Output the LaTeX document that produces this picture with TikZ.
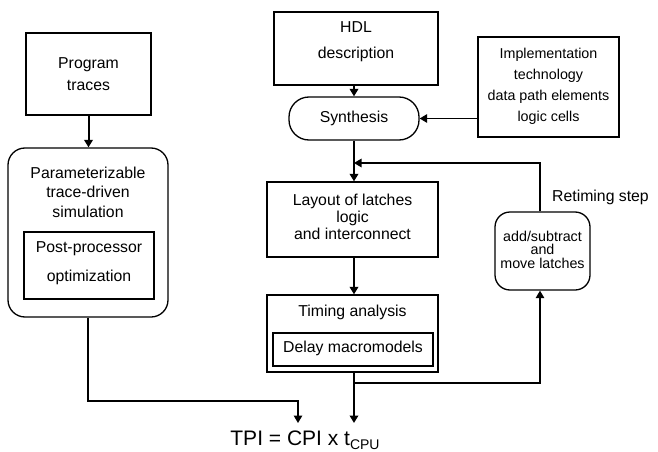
\documentclass[tikz,border=0pt]{standalone}
\usepackage{fontspec}
\setmainfont{Liberation Sans}
\usetikzlibrary{arrows.meta}
\begin{document}
\begin{tikzpicture}[x=1pt,y=-1pt,
  box/.style={draw,line width=1.3pt,inner sep=0pt},
  rbox/.style={box,rounded corners=#1},
  txt/.style={align=center,inner sep=0pt,font=\fontsize{15.8}{#1}\selectfont},
  flow/.style={line width=2pt,-{Triangle[length=7.5pt,width=8.5pt]}},
  loop/.style={line width=1.4pt,-{Triangle[length=7.5pt,width=8.5pt]}}]
\useasboundingbox (0,0) rectangle (658,452);

% left column: trace-driven simulation
\node[box,minimum width=125pt,minimum height=82pt] (prog) at (88.5,74) {};
\node[txt=22pt] (progT) at (88.5,74) {Program\\traces};
\node[rbox=17pt,minimum width=160pt,minimum height=169pt] (sim) at (88,232.5) {};
\node[txt=19.5pt] (simT) at (88,192) {Parameterizable\\trace-driven\\simulation};
\node[box,minimum width=130pt,minimum height=67pt] (post) at (89,265.5) {};
\node[txt=29pt] (postT) at (89,263) {Post-processor\\optimization};

% right column: synthesis and retiming loop
\node[box,minimum width=164pt,minimum height=73pt] (hdl) at (356,48.5) {};
\node[txt=26pt] (hdlT) at (356,42) {HDL\\description};
\node[rbox=20pt,minimum width=130pt,minimum height=43pt] (syn) at (354,118.5) {};
\node[txt=18pt] (synT) at (354,118.5) {Synthesis};
\node[box,minimum width=141pt,minimum height=100pt] (impl) at (548.5,87) {};
\node[align=center,inner sep=0pt,font=\fontsize{14.3}{21}\selectfont] (implT) at (548.5,86.5)
  {Implementation\\technology\\data path elements\\logic cells};
\node[box,minimum width=171pt,minimum height=75pt] (lay) at (352.5,219.5) {};
\node[txt=17pt] (layT) at (352.5,216.5) {Layout of latches\\logic\\and interconnect};
\node[box,minimum width=171pt,minimum height=77pt] (tim) at (352.5,333.5) {};
\node[txt=18pt] (timT) at (352.5,312) {Timing analysis};
\node[box,minimum width=160pt,minimum height=33pt] (del) at (353,349.5) {};
\node[txt=18pt] (delT) at (353,348.5) {Delay macromodels};
\node[rbox=15pt,minimum width=95pt,minimum height=78pt] (ret) at (542.5,251) {};
\node[align=center,inner sep=0pt,font=\fontsize{14.3}{13.5}\selectfont] (retT) at (542.5,249.5)
  {add/subtract\\and\\move latches};
\node[anchor=west,inner sep=0pt,font=\fontsize{15.8}{18}\selectfont] (retLab) at (552,197) {Retiming step};

% result
\node[inner sep=0pt,font=\fontsize{21}{24}\selectfont] (tpi) at (305,440)
  {TPI = CPI x t\raisebox{-0.35ex}{\fontsize{14}{14}\selectfont CPU}};

\coordinate (lpin) at (298,423);
\coordinate (rpin) at (354,423);
\coordinate (merge) at (354,163);
\coordinate (split) at (354,383);

% connectors
\draw[flow] (prog.south) -- (prog.south |- sim.north);
\draw[flow] (hdl.south -| syn.north) -- (syn.north);
\draw[loop] (impl.west |- syn.east) -- (syn.east);
\draw[flow] (syn.south) -- (lay.north -| syn.south);
\draw[flow] (lay.south -| syn.south) -- (tim.north -| syn.south);
\draw[flow] (tim.south -| syn.south) -- (rpin);
\draw[loop] (ret.north -| 540,0) -- (540,163) -- (merge);
\draw[loop] (split) -- (540,383) -- (ret.south -| 540,0);
\draw[loop] (sim.south) -- (88,401) -- (298,401) -- (lpin);
\end{tikzpicture}
\end{document}
